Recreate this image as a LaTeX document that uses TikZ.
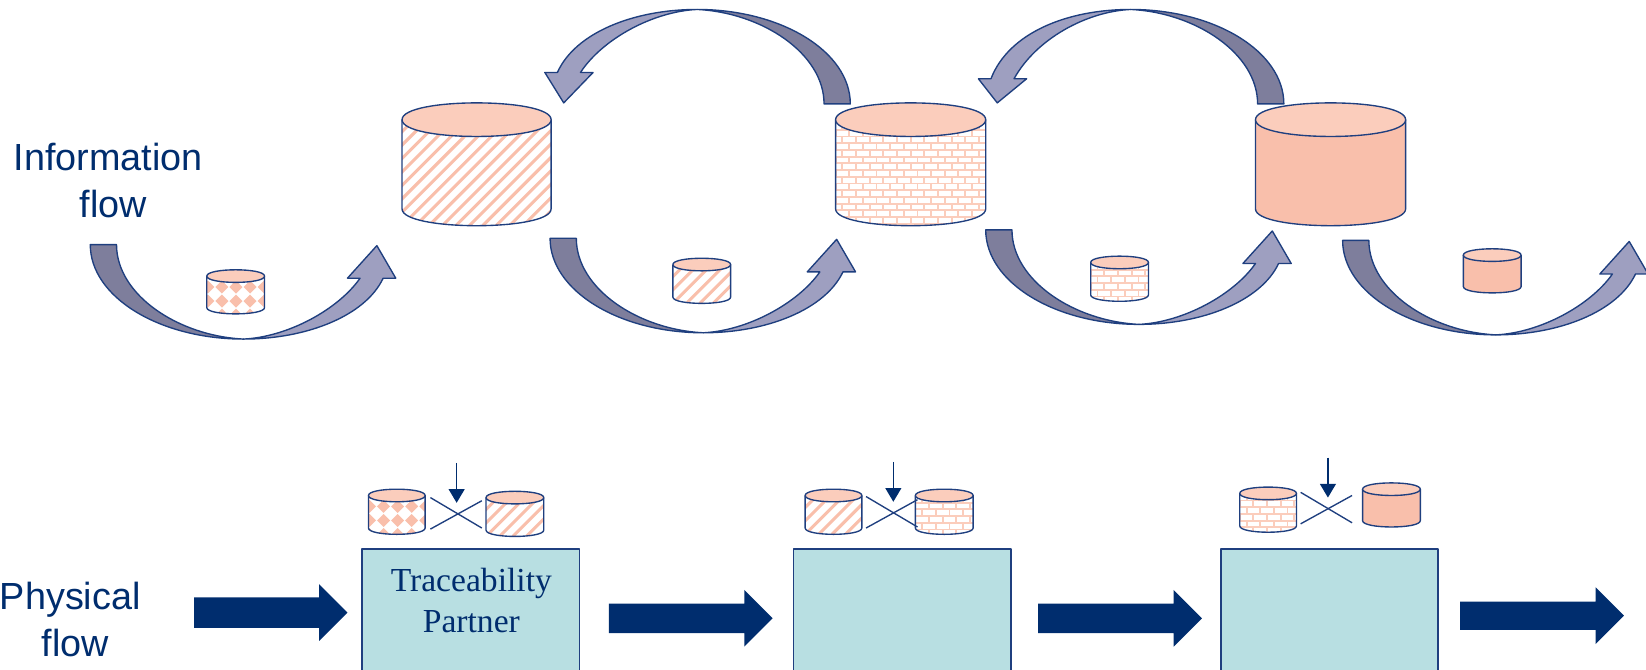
\documentclass[tikz,border=0pt]{standalone}
\usepackage{fontspec}
\setmainfont{Liberation Sans}
\newfontfamily\serifface{Liberation Serif}
\usetikzlibrary{arrows.meta}
\definecolor{navy}{HTML}{002D6E}
\definecolor{edgeblue}{HTML}{1F3F7F}
\definecolor{peachtop}{HTML}{FBCDBC}
\definecolor{peach}{HTML}{F9BFAB}
\definecolor{bandlight}{HTML}{9E9FC0}
\definecolor{banddark}{HTML}{7E7E9C}
\definecolor{teal}{HTML}{B8DFE2}
\tikzset{
  x=1pt,y=-1pt,
  outline/.style={draw=edgeblue,line width=1.3pt,line join=round},
  flowlabel/.style={text=navy,align=center,font=\fontsize{36}{45}\selectfont,inner sep=0pt},
  partnerbox/.style={fill=teal,minimum width=207pt,minimum height=115pt,anchor=north west,inner sep=0pt,outer sep=0pt},
  partnerlabel/.style={text=navy,align=center,font=\serifface\fontsize{32}{39}\selectfont,inner sep=0pt},
  crossline/.style={draw=edgeblue,line width=1.3pt},
  downarrow/.style={draw=navy,line width=1.6pt,-{Triangle[length=13pt,width=15pt]}},
  thickarrow/.style={fill=navy,draw=none}
}
% patterns: #1 x1, #2 ytop, #3 x2, #4 ybot
\newcommand\patNone[4]{\fill[peach] (#1-2,#2-2) rectangle (#3+2,#4+2);}
\newcommand\patStripes[4]{%
  \pgfmathsetmacro\hh{#4-#2}%
  \foreach \k in {-16,...,14}{%
    \draw[peach,line width=2.9pt] ({#1+\k*12.8},#4) -- ({#1+\k*12.8+\hh},#2);}}
\newcommand\patBricks[4]{%
  \foreach \r in {0,...,19}{%
    \pgfmathsetmacro\yy{#2+\r*6.4}%
    \draw[peachtop,line width=1.8pt] (#1,\yy) -- (#3,\yy);
    \foreach \c in {0,...,12}{%
      \pgfmathsetmacro\xx{#1+\c*13+mod(\r,2)*6.5}%
      \draw[peachtop,line width=1.8pt] (\xx,\yy) -- (\xx,\yy+6.4);}}}
\newcommand\patDiamonds[4]{%
  \foreach \r in {0,...,3}{%
    \foreach \c in {0,...,4}{%
      \pgfmathsetmacro\xx{#1+1+\c*13.4}%
      \pgfmathsetmacro\yy{#2+3+\r*13.4}%
      \fill[peach] (\xx-6.2,\yy) -- (\xx,\yy-6.2) -- (\xx+6.2,\yy) -- (\xx,\yy+6.2) -- cycle;}}}
% cylinder: #1 x1, #2 y top, #3 x2, #4 y bottom, #5 ry, #6 pattern
\newcommand\cyl[6]{%
  \pgfmathsetmacro\ya{#2+#5}%
  \pgfmathsetmacro\yb{#4-#5}%
  \pgfmathsetmacro\ka{1.333*#5}%
  \begin{scope}
    \clip (#1,\ya) -- (#1,\yb) .. controls (#1,\yb+\ka) and (#3,\yb+\ka) .. (#3,\yb) -- (#3,\ya) -- cycle;
    \fill[white] (#1,#2) rectangle (#3,#4);
    #6{#1}{#2}{#3}{#4}
  \end{scope}
  \draw[outline] (#1,\ya) -- (#1,\yb) .. controls (#1,\yb+\ka) and (#3,\yb+\ka) .. (#3,\yb) -- (#3,\ya);
  \draw[outline,fill=peachtop] (#1,\ya) .. controls (#1,\ya-\ka) and (#3,\ya-\ka) .. (#3,\ya)
     .. controls (#3,\ya+\ka) and (#1,\ya+\ka) .. (#1,\ya) -- cycle;}
% curved band arrow: #1 position, #2 rotation, #3 head length
\newcommand\curvearrow[3]{%
  \begin{scope}[shift={#1},rotate=#2]
    \pgfmathsetmacro\hb{#3+1}%
    \draw[outline,fill=bandlight] (146,90) .. controls (206,90) and (262,68) .. (279,\hb)
       -- (291,\hb) -- (273,1) -- (245,\hb) -- (257,\hb)
       .. controls (236,62) and (188,88) .. (146,90) -- cycle;
    \draw[outline,fill=banddark] (0,0) -- (25,0) .. controls (25,48) and (84,87) .. (146,90)
       .. controls (66,90) and (0,50) .. (0,0) -- cycle;
  \end{scope}}
% thick arrow: #1 x left, #2 x head, #3 x tip, #4 y shaft top, #5 y shaft bottom, #6 half head height
\newcommand\thickarr[6]{%
  \pgfmathsetmacro\ym{(#4+#5)/2}%
  \fill[thickarrow] (#1,#4) -- (#2,#4) -- (#2,\ym-#6) -- (#3,\ym) -- (#2,\ym+#6) -- (#2,#5) -- (#1,#5) -- cycle;}
\begin{document}
\begin{tikzpicture}
\path[use as bounding box] (0,0) rectangle (1568,638);
% labels
\node[flowlabel,anchor=center] (infolabel) at (103,172) {Information\\\hspace*{10pt}flow};
\node[flowlabel,anchor=center] (physlabel) at (67,590) {Physical\\\hspace*{10pt}flow};
% curved arrows
\curvearrow{(86,233)}{0}{31}
\curvearrow{(524,227)}{0}{31}
\curvearrow{(939,219)}{0}{31}
\curvearrow{(1279,229)}{0}{31}
\curvearrow{(810,99)}{180}{29}
\curvearrow{(1223,99)}{180}{23}
% large cylinders
\cyl{383}{98}{525}{215}{16}{\patStripes}
\cyl{796}{98}{939}{215}{16}{\patBricks}
\cyl{1196}{98}{1339}{215}{16}{\patNone}
% small cylinders
\cyl{197}{257}{252}{299}{6}{\patDiamonds}
\cyl{641}{246}{696}{289}{6}{\patStripes}
\cyl{1039}{244}{1094}{287}{6}{\patBricks}
\cyl{1394}{237}{1449}{279}{6}{\patNone}
% bottom row cylinders
\cyl{351}{466}{405}{509}{6}{\patDiamonds}
\cyl{463}{468}{518}{511}{6}{\patStripes}
\cyl{767}{466}{821}{509}{6}{\patStripes}
\cyl{872}{466}{927}{509}{6}{\patBricks}
\cyl{1181}{464}{1235}{507}{6}{\patBricks}
\cyl{1298}{460}{1353}{502}{6}{\patNone}
% crosses and down arrows
\coordinate (xa1) at (410,474); \coordinate (xa2) at (459,503);
\coordinate (xa3) at (410,504); \coordinate (xa4) at (459,477);
\draw[crossline] (xa1) -- (xa2); \draw[crossline] (xa3) -- (xa4);
\coordinate (da1) at (435,441); \coordinate (da2) at (435,479);
\draw[downarrow] (da1) -- (da2);
\coordinate (xb1) at (825,473); \coordinate (xb2) at (874,502);
\coordinate (xb3) at (825,503); \coordinate (xb4) at (874,476);
\draw[crossline] (xb1) -- (xb2); \draw[crossline] (xb3) -- (xb4);
\coordinate (db1) at (851,440); \coordinate (db2) at (851,478);
\draw[downarrow] (db1) -- (db2);
\coordinate (xc1) at (1239,469); \coordinate (xc2) at (1288,498);
\coordinate (xc3) at (1239,499); \coordinate (xc4) at (1288,472);
\draw[crossline] (xc1) -- (xc2); \draw[crossline] (xc3) -- (xc4);
\coordinate (dc1) at (1265,436); \coordinate (dc2) at (1265,474);
\draw[downarrow] (dc1) -- (dc2);
% partner boxes
\node[partnerbox] (p1) at (345,523) {};
\node[partnerbox] (p2) at (756,523) {};
\node[partnerbox] (p3) at (1163,523) {};
\foreach \b in {p1,p2,p3}{
  \draw[outline] (\b.south west) -- (\b.north west) -- (\b.north east) -- (\b.south east);}
\node[partnerlabel] (plabel) at (449,572) {Traceability\\Partner};
% thick arrows
\thickarr{185}{304}{331}{569}{598}{27}
\thickarr{580}{709}{736}{575}{603}{27}
\thickarr{989}{1118}{1145}{575}{603}{27}
\thickarr{1391}{1520}{1547}{573}{600}{27}
\end{tikzpicture}
\end{document}
